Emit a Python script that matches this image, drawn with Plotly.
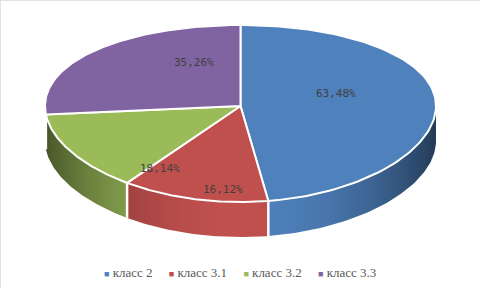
import numpy as np
import plotly.graph_objects as go

# ---------------- data ----------------
categories = ["класс 2", "класс 3.1", "класс 3.2", "класс 3.3"]
values = [63.48, 16.12, 18.14, 35.26]

# ---------------- style ----------------
colors = ["#4F81BD", "#C0504D", "#9BBB59", "#8064A2"]
CX, CY = 240.5, 106.0      # pie centre (pixels)
RX, RY = 195.5, 87.9       # ellipse radii
PERSP = 0.085              # vertical perspective factor
DEPTH = 35.0               # thickness of the 3D wall
LABEL_R = 0.6
label_nudge = [(-22, -9), (10, 30), (21, 35), (40, -9)]


def proj(theta_deg, r=1.0, drop=0.0):
    t = np.radians(theta_deg)
    X = r * np.sin(t)
    Z = r * np.cos(t)
    x = CX + RX * X
    y = CY - RY * Z / (1 + PERSP * Z) + drop
    return x, y


def hex_to_rgb(h):
    h = h.lstrip("#")
    return [int(h[i:i + 2], 16) for i in (0, 2, 4)]


def shade(hexcol, f):
    r, g, b = hex_to_rgb(hexcol)
    return "rgb(%d,%d,%d)" % (round(r * f), round(g * f), round(b * f))


def wall_factor(theta):
    c = np.cos(np.radians(theta - 180.0))
    return 0.45 + 0.55 * max(c, 0) ** 1.8


total = sum(values)
angles = np.concatenate([[0], np.cumsum(values) / total * 360.0])

fig = go.Figure()

# ---- side walls (front half only) with horizontal gradient ----
for i, col in enumerate(colors):
    a0, a1 = max(angles[i], 90.0), min(angles[i + 1], 270.0)
    if a1 <= a0:
        continue
    ta = np.linspace(a0, a1, 80)
    xt, yt = proj(ta)
    xb, yb = proj(ta[::-1], drop=DEPTH)
    xmin, xmax = xt.min(), xt.max()
    stops = []
    for th, xx in zip(ta, xt):
        pos = (xx - xmin) / (xmax - xmin)
        stops.append((float(pos), shade(col, wall_factor(th))))
    stops.sort(key=lambda s: s[0])
    stops[0] = (0.0, stops[0][1])
    stops[-1] = (1.0, stops[-1][1])
    fig.add_trace(go.Scatter(
        x=np.concatenate([xt, xb]), y=np.concatenate([yt, yb]),
        fill="toself", mode="lines", line=dict(width=0),
        fillgradient=dict(type="horizontal", colorscale=stops),
        hoverinfo="skip", showlegend=False))

# white separators on the wall
for a in angles[1:-1]:
    if 90 < a < 270:
        xt, yt = proj(a)
        xb, yb = proj(a, drop=DEPTH)
        fig.add_trace(go.Scatter(x=[xt, xb], y=[yt, yb], mode="lines",
                                 line=dict(color="white", width=2.5),
                                 hoverinfo="skip", showlegend=False))

# ---- top faces ----
for i, col in enumerate(colors):
    ta = np.linspace(angles[i], angles[i + 1], 120)
    xa, ya = proj(ta)
    xs = np.concatenate([[CX], xa, [CX]])
    ys = np.concatenate([[CY], ya, [CY]])
    fig.add_trace(go.Scatter(x=xs, y=ys, fill="toself", fillcolor=col,
                             mode="lines", line=dict(color="white", width=2),
                             hoverinfo="skip", showlegend=False))

# ---- data labels ----
for i, v in enumerate(values):
    mid = 0.5 * (angles[i] + angles[i + 1])
    x, y = proj(mid, r=LABEL_R)
    dx, dy = label_nudge[i]
    fig.add_annotation(x=x + dx, y=y + dy, text=f"{v:.2f}%".replace(".", ","),
                       showarrow=False,
                       font=dict(family="DejaVu Sans Mono", size=11, color="#404040"))

# ---- legend (compact, Excel-like) ----
sep = "&nbsp;" * 5
legend_text = sep.join(
    f"<span style='color:{c};font-size:9px'>■</span>&nbsp;{n}"
    for n, c in zip(categories, colors))
fig.add_annotation(xref="paper", yref="paper", x=0.5, y=1 - 272 / 288,
                   xanchor="center", yanchor="middle", showarrow=False,
                   text=legend_text,
                   font=dict(family="Liberation Serif", size=13, color="#595959"))

fig.update_layout(
    width=480, height=288,
    margin=dict(l=0, r=0, t=0, b=0),
    paper_bgcolor="white", plot_bgcolor="white",
    showlegend=False,
    xaxis=dict(range=[0, 480], visible=False, fixedrange=True),
    yaxis=dict(range=[288, 0], visible=False, fixedrange=True),
    shapes=[
        dict(type="line", xref="paper", yref="paper", x0=0, x1=0, y0=0, y1=1,
             line=dict(color="#D9D9D9", width=1.5)),
        dict(type="line", xref="paper", yref="paper", x0=0, x1=1, y0=1, y1=1,
             line=dict(color="#D9D9D9", width=1.5)),
    ],
)

fig.write_html("out.html", config={"displayModeBar": False},
               post_script="document.body.style.margin='0';")
